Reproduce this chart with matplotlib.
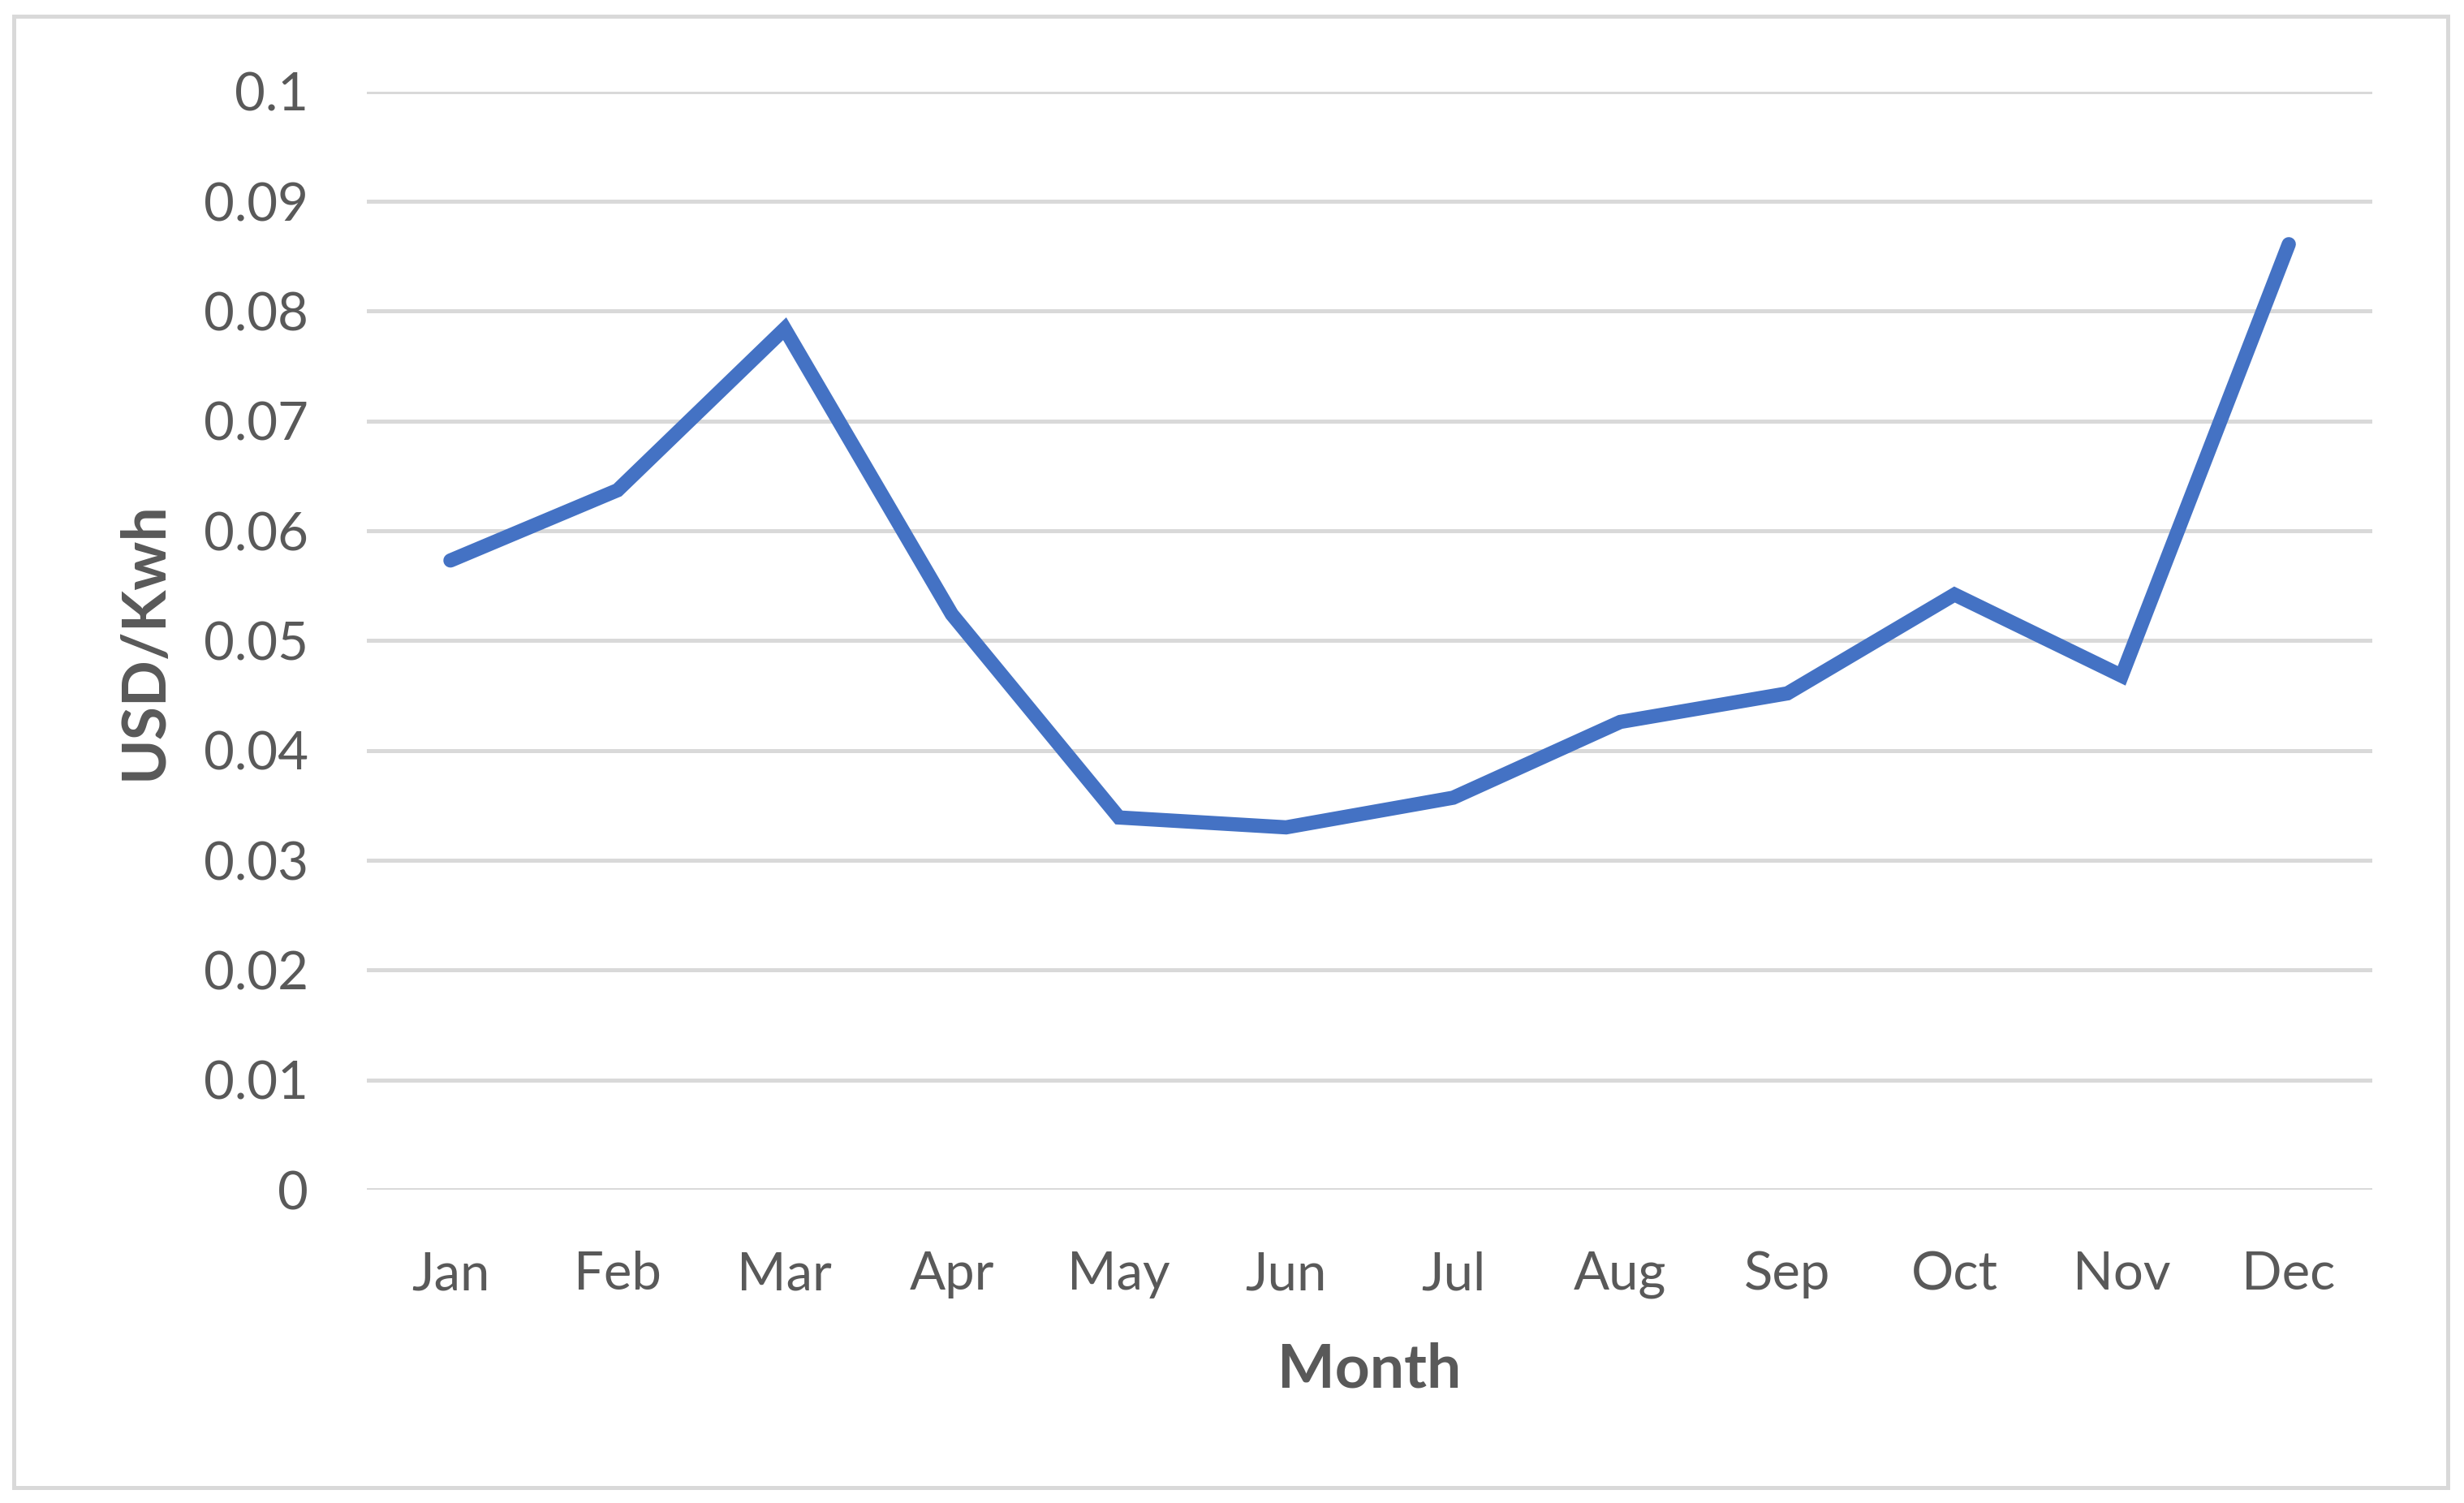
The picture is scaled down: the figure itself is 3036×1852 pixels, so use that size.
import matplotlib
matplotlib.use("Agg")
import matplotlib.pyplot as plt
from matplotlib.patches import Rectangle

# monthly price
months = ["Jan", "Feb", "Mar", "Apr", "May", "Jun", "Jul", "Aug", "Sep", "Oct", "Nov", "Dec"]
usd_per_kwh = [0.0573, 0.0637, 0.0784, 0.0524, 0.0339, 0.0330, 0.0357, 0.0426, 0.0452, 0.0542, 0.0468, 0.0861]
y_ticks = [0, 0.01, 0.02, 0.03, 0.04, 0.05, 0.06, 0.07, 0.08, 0.09, 0.1]

TXT = "#595959"
GRID = "#D9D9D9"
BLUE = "#4472C4"

plt.rcParams["font.family"] = ["Lato", "DejaVu Sans"]

fig = plt.figure(figsize=(15.18, 9.26), dpi=200)
ax = fig.add_axes([0.1489, 0.2084, 0.8139, 0.7307])

x = list(range(len(months)))
ax.plot(x, usd_per_kwh, color=BLUE, lw=6.3, solid_capstyle="round", solid_joinstyle="miter", zorder=3)

ax.set_xlim(-0.5, len(months) - 0.5)
ax.set_ylim(0, 0.1)
ax.set_yticks(y_ticks)
ax.set_yticklabels([f"{v:g}" for v in y_ticks])
ax.set_xticks(x)
ax.set_xticklabels(months)
for v in y_ticks:
    ax.axhline(v, color=GRID, lw=1.8, zorder=1)

for s in ax.spines.values():
    s.set_visible(False)
ax.tick_params(axis="both", length=0, labelsize=23.5, labelcolor=TXT)
ax.tick_params(axis="y", pad=26)
ax.tick_params(axis="x", pad=27)

ax.set_xlabel("Month", fontsize=27, fontweight="bold", color=TXT, va="center")
ax.xaxis.set_label_coords(0.5, -0.164)
ax.set_ylabel("USD/Kwh", fontsize=27, fontweight="bold", color=TXT, va="center")
ax.yaxis.set_label_coords(-0.1109, 0.5)

# chart border
fig.patches.append(Rectangle((17 / 3036, 1 - 1833 / 1852), (3016 - 17) / 3036, (1833 - 20) / 1852,
                             transform=fig.transFigure, fill=False, edgecolor=GRID, lw=1.8))

fig.savefig("out.png", dpi=200, facecolor="white")
